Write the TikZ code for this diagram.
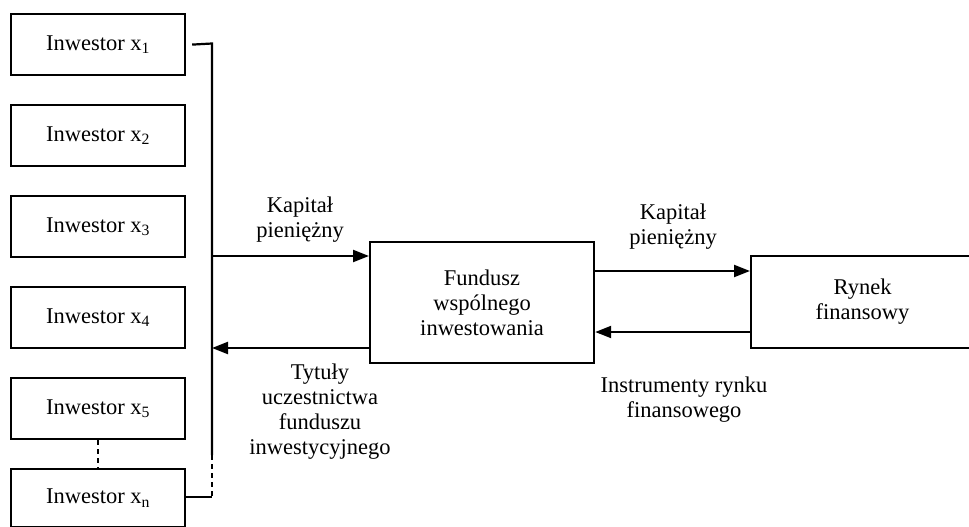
\documentclass[tikz,border=0pt]{standalone}
\usepackage{fontspec}
\setmainfont{Liberation Serif}
\usetikzlibrary{arrows.meta}
\begin{document}
\begin{tikzpicture}[x=1pt,y=-1pt,
  box/.style={draw, line width=2.2pt, inner sep=0pt, anchor=north west},
  lbl/.style={font=\fontsize{22.5}{25}\selectfont, align=center, inner sep=0pt},
  conn/.style={line width=2.2pt},
  arr/.style={line width=2.2pt, -{Triangle[length=16pt,width=12pt]}}]
\useasboundingbox (0,0) rectangle (969,527);
% investor boxes
\node[box, minimum width=174pt, minimum height=61pt] (i1) at (10,13) {};
\node[box, minimum width=174pt, minimum height=61pt] (i2) at (10,104) {};
\node[box, minimum width=174pt, minimum height=61pt] (i3) at (10,195) {};
\node[box, minimum width=174pt, minimum height=61pt] (i4) at (10,286) {};
\node[box, minimum width=174pt, minimum height=61pt] (i5) at (10,377) {};
\node[box, minimum width=174pt, minimum height=58pt] (in) at (10,468) {};
\node[lbl] at (i1.center) {Inwestor x\textsubscript{1}};
\node[lbl] at (i2.center) {Inwestor x\textsubscript{2}};
\node[lbl] at (i3.center) {Inwestor x\textsubscript{3}};
\node[lbl] at (i4.center) {Inwestor x\textsubscript{4}};
\node[lbl] at (i5.center) {Inwestor x\textsubscript{5}};
\node[lbl] at (in.center) {Inwestor x\textsubscript{n}};
\draw[conn, dashed, dash pattern=on 5pt off 4pt] (i5.south) -- (in.north);
% bus
\coordinate (b1) at (212,43.5);
\coordinate (bs) at (212,455);
\coordinate (bn) at (212,497);
\coordinate (bk) at (212,256);
\coordinate (bt) at (212,348);
\draw[conn] ([xshift=6pt]i1.east) -- (b1) -- (bs);
\draw[conn, dashed, dash pattern=on 5pt off 4pt] (bs) -- (bn);
\draw[conn] (in.east |- bn) -- (bn);
% fund
\node[box, minimum width=224pt, minimum height=121pt] (f) at (369,241) {};
\node[lbl] at (f.center) {Fundusz\\wspólnego\\inwestowania};
% market
\node[box, minimum width=219pt, minimum height=92pt] (m) at (750,255) {};
\node[lbl] at ([xshift=2pt]m.center) {Rynek\\finansowy};
% arrows
\draw[arr] (bk) -- (f.west |- bk);
\draw[arr] (f.west |- bt) -- (bt);
\draw[arr] (f.east |- 0,271) -- (m.west |- 0,271);
\draw[arr] (m.west |- 0,332) -- (f.east |- 0,332);
% labels
\node[lbl] (k1) at (300,220) {Kapitał\\pieniężny};
\node[lbl] (k2) at (673,227) {Kapitał\\pieniężny};
\node[lbl] (t) at (320,412) {Tytuły\\uczestnictwa\\funduszu\\inwestycyjnego};
\node[lbl] (ir) at (684,400) {Instrumenty rynku\\finansowego};
\end{tikzpicture}
\end{document}
